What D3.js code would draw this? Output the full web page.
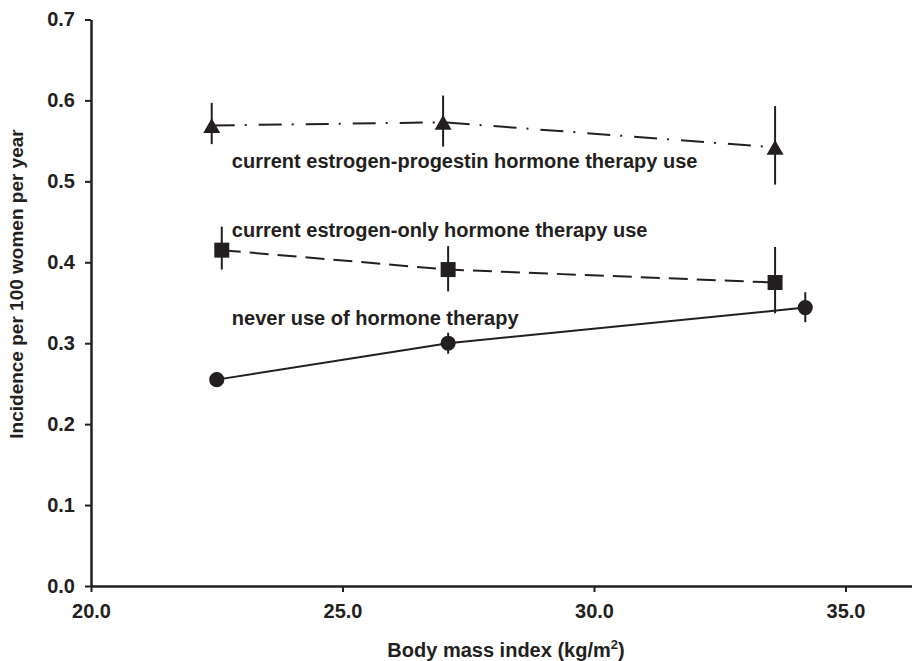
<!DOCTYPE html>
<html>
<head>
<meta charset="utf-8">
<script src="https://cdn.jsdelivr.net/npm/d3@7"></script>
<style>
  html, body { margin: 0; padding: 0; background: #fff; }
  svg { display: block; font-family: "Liberation Sans", Arial, sans-serif; }
</style>
</head>
<body>
<svg id="chart" width="912" height="661"></svg>
<script>
// values (BMI kg/m2, incidence per 100 women per year)
var epBmi = [22.4, 27.0, 33.6];
var epRate = [0.569, 0.573, 0.542];
var epLow = [0.546, 0.543, 0.496];
var epHigh = [0.597, 0.606, 0.593];

var eoBmi = [22.6, 27.1, 33.6];
var eoRate = [0.415, 0.391, 0.375];
var eoLow = [0.391, 0.364, 0.337];
var eoHigh = [0.444, 0.420, 0.419];

var neverBmi = [22.5, 27.1, 34.2];
var neverRate = [0.255, 0.300, 0.344];
var neverLow = [0.247, 0.287, 0.326];
var neverHigh = [0.264, 0.313, 0.363];

var xTicks = [20, 25, 30, 35];
var yTicks = [0, 0.1, 0.2, 0.3, 0.4, 0.5, 0.6, 0.7];

var seriesNames = [
  "current estrogen-progestin hormone therapy use",
  "current estrogen-only hormone therapy use",
  "never use of hormone therapy"
];
// where each series label sits, in data units
var labelBmi = [22.8, 22.8, 22.8];
var labelRate = [0.516, 0.431, 0.322];

(function () {
  var ink = "#231f20";

  function rows(bmi, rate, low, high) {
    return bmi.map(function (v, i) {
      return { bmi: v, rate: rate[i], low: low[i], high: high[i] };
    });
  }

  var series = [
    { name: seriesNames[0], values: rows(epBmi, epRate, epLow, epHigh), symbol: d3.symbolTriangle, size: 125, dash: "23,10,2,12", dy: 2.5 },
    { name: seriesNames[1], values: rows(eoBmi, eoRate, eoLow, eoHigh), symbol: d3.symbolSquare, size: 225, dash: "19,9", dy: 0 },
    { name: seriesNames[2], values: rows(neverBmi, neverRate, neverLow, neverHigh), symbol: d3.symbolCircle, size: 180, dash: null, dy: 0 }
  ];

  var svg = d3.select("#chart"),
    margin = {top: 19.5, right: 0, bottom: 75, left: 91},
    width = 912 - margin.left - margin.right,
    height = 661 - margin.top - margin.bottom;

  var g = svg.append("g").attr("transform", "translate(" + margin.left + "," + margin.top + ")");

  var x = d3.scaleLinear()
    .domain([20, 20 + width / 50.3])
    .range([0, width]);

  var y = d3.scaleLinear()
    .domain([0, 0.7])
    .range([height, 0]);

  var xAxis = g.append("g")
    .attr("transform", "translate(0," + height + ")")
    .call(d3.axisBottom(x)
      .tickValues(xTicks)
      .tickSizeInner(6)
      .tickSizeOuter(0)
      .tickPadding(12)
      .tickFormat(d3.format(".1f")));

  var yAxis = g.append("g")
    .call(d3.axisLeft(y)
      .tickValues(yTicks)
      .tickSizeInner(6)
      .tickSizeOuter(0)
      .tickPadding(10)
      .tickFormat(d3.format(".1f")));

  [xAxis, yAxis].forEach(function (ax) {
    ax.select(".domain").attr("stroke", ink).attr("stroke-width", 2.5);
    ax.selectAll(".tick line").attr("stroke", ink).attr("stroke-width", 2);
    ax.selectAll(".tick text")
      .attr("fill", ink)
      .style("font-size", "20px")
      .style("font-weight", "bold");
  });

  var line = d3.line()
    .x(function (d) { return x(d.bmi); })
    .y(function (d) { return y(d.rate); });

  series.forEach(function (s) {
    var sg = g.append("g");

    sg.append("path")
      .datum(s.values)
      .attr("fill", "none")
      .attr("stroke", ink)
      .attr("stroke-width", 2)
      .attr("stroke-dasharray", s.dash)
      .attr("d", line);

    sg.selectAll("line.err")
      .data(s.values)
      .enter().append("line")
      .attr("class", "err")
      .attr("x1", function (d) { return x(d.bmi); })
      .attr("x2", function (d) { return x(d.bmi); })
      .attr("y1", function (d) { return y(d.low); })
      .attr("y2", function (d) { return y(d.high); })
      .attr("stroke", ink)
      .attr("stroke-width", 2);

    sg.selectAll("path.pt")
      .data(s.values)
      .enter().append("path")
      .attr("class", "pt")
      .attr("d", d3.symbol().type(s.symbol).size(s.size))
      .attr("transform", function (d) { return "translate(" + x(d.bmi) + "," + (y(d.rate) + s.dy) + ")"; })
      .attr("fill", ink);
  });

  g.selectAll("text.series-label")
    .data(seriesNames)
    .enter().append("text")
    .attr("class", "series-label")
    .attr("x", function (d, i) { return x(labelBmi[i]); })
    .attr("y", function (d, i) { return y(labelRate[i]); })
    .attr("fill", ink)
    .style("font-size", "20px")
    .style("font-weight", "bold")
    .text(function (d) { return d; });

  var xTitle = svg.append("text")
    .attr("x", 506)
    .attr("y", 657)
    .attr("text-anchor", "middle")
    .attr("fill", ink)
    .style("font-size", "20px")
    .style("font-weight", "bold");
  xTitle.append("tspan").text("Body mass index (kg/m");
  xTitle.append("tspan").attr("dy", -8).style("font-size", "13px").text("2");
  xTitle.append("tspan").attr("dy", 8).text(")");

  svg.append("text")
    .attr("transform", "translate(23,284) rotate(-90)")
    .attr("text-anchor", "middle")
    .attr("fill", ink)
    .style("font-size", "19px")
    .style("font-weight", "bold")
    .text("Incidence per 100 women per year");
})();
</script>
</body>
</html>
